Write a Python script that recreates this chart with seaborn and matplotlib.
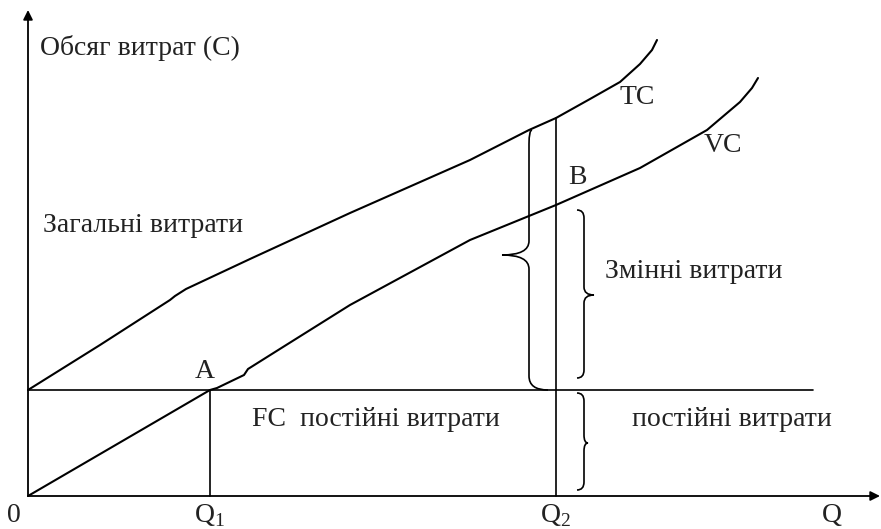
import matplotlib
matplotlib.use("Agg")
import numpy as np
import pandas as pd
import seaborn as sns
import matplotlib.pyplot as plt
from matplotlib.path import Path
from matplotlib.patches import PathPatch

# Дані (Q - обсяг виробництва, C - витрати)
tc_q = [0, 72, 142, 147, 158, 222, 322, 442, 501, 528, 562, 592, 612, 624, 629]
tc_c = [106, 151, 196, 200, 207, 237, 283, 336, 366, 378, 397, 414, 432, 446, 456]

vc_q = [0, 182, 189, 216, 220, 255, 322, 442, 528, 612, 679, 712, 724, 730]
vc_c = [0, 106, 108, 121, 127, 149, 191, 256, 291, 328, 366, 394, 408, 418]

fc_level = 106
q_max_fc = 785
q1 = 182
q2 = 528
q2_tc = 378

# фігурні дужки: (спина, вістря, кінець низ, кінець верх, низ, верх, середина, радіус)
braces = [
    (501, 474, 520, 504, 106, 366, 241, 14),
    (556, 566, 549, 549, 118, 286, 201, 8),
    (556, 560, 549, 549, 6, 103, 53, 8),
]

sns.set_style("white")
plt.rcParams['font.family'] = ['Liberation Serif', 'DejaVu Serif']
plt.rcParams['mathtext.fontset'] = 'custom'
plt.rcParams['mathtext.rm'] = 'Liberation Serif'

fig = plt.figure(figsize=(8.81, 5.29), dpi=100)
ax = fig.add_axes([0, 0, 1, 1])
ax.set_xlim(-28, 853)
ax.set_ylim(-33, 496)
ax.axis("off")

df_tc = pd.DataFrame({"Q": tc_q, "C": tc_c})
df_vc = pd.DataFrame({"Q": vc_q, "C": vc_c})
sns.lineplot(data=df_tc, x="Q", y="C", sort=False, color="black", lw=1.5, ax=ax)
sns.lineplot(data=df_vc, x="Q", y="C", sort=False, color="black", lw=1.5, ax=ax)

# осі
arrow = dict(arrowstyle="-|>", color="black", lw=1.3, mutation_scale=14, shrinkA=0, shrinkB=0)
ax.annotate("", xy=(0, 486), xytext=(0, 0), arrowprops=arrow)
ax.annotate("", xy=(852, 0), xytext=(0, 0), arrowprops=arrow)

# постійні витрати та вертикалі
ax.plot([0, q_max_fc], [fc_level, fc_level], color="black", lw=1.2)
ax.plot([q1, q1], [0, fc_level], color="black", lw=1.2)
ax.plot([q2, q2], [0, q2_tc], color="black", lw=1.2)

for xs, xt, xe0, xe1, y0, y1, ym, r in braces:
    verts = [(xe0, y0), (xs, y0), (xs, y0 + r), (xs, ym - r), (xs, ym), (xt, ym),
             (xs, ym), (xs, ym + r), (xs, y1 - r), (xs, y1), (xe1, y1)]
    codes = [Path.MOVETO, Path.CURVE3, Path.CURVE3, Path.LINETO, Path.CURVE3, Path.CURVE3,
             Path.CURVE3, Path.CURVE3, Path.LINETO, Path.CURVE3, Path.CURVE3]
    ax.add_patch(PathPatch(Path(verts, codes), fill=False, color="black", lw=1.2))

fs = 20
txt = dict(fontsize=fs, color="#222222")
ax.text(12, 448, "Обсяг витрат (C)", va="center", **txt)
ax.text(15, 271, "Загальні витрати", va="center", **txt)
ax.text(577, 224, "Змінні витрати", va="center", **txt)
ax.text(224, 76, "FC  постійні витрати", va="center", **txt)
ax.text(604, 76, "постійні витрати", va="center", **txt)
ax.text(177, 124, "A", ha="center", va="center", **txt)
ax.text(549, 319, "B", ha="center", va="center", **txt)
ax.text(609, 399, "TC", ha="center", va="center", **txt)
ax.text(695, 351, "VC", ha="center", va="center", **txt)
ax.text(-14, -20, "0", ha="center", va="center", **txt)
ax.text(q1, -20, r"Q$_\mathrm{1}$", ha="center", va="center", **txt)
ax.text(q2, -20, r"Q$_\mathrm{2}$", ha="center", va="center", **txt)
ax.text(804, -20, "Q", ha="center", va="center", **txt)

fig.savefig("out.png", dpi=100)
